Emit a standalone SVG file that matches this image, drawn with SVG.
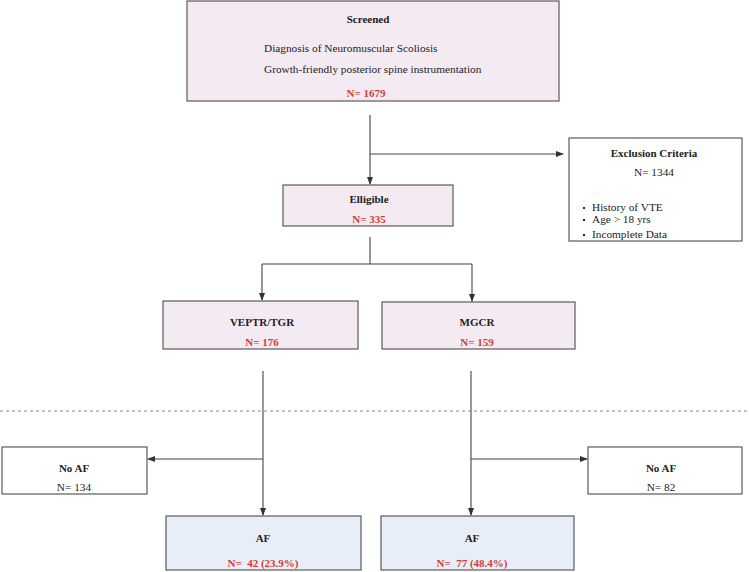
<svg xmlns="http://www.w3.org/2000/svg" width="749" height="572" viewBox="0 0 749 572">
<defs>
<marker id="ah" markerWidth="8" markerHeight="6" refX="7" refY="3" orient="auto" markerUnits="userSpaceOnUse">
<path d="M0,0 L8,3 L0,6 Z" fill="#333"/>
</marker>
<style>
.box{stroke:#5a5a5a;stroke-width:1.2}
.pink{fill:#f4eaf2}
.blue{fill:#e7eef7}
.white{fill:#ffffff}
text{font-family:"Liberation Serif","Times New Roman",serif;fill:#222}
.b{font-weight:bold;font-size:11px;text-anchor:middle}
.n{font-size:11.3px}
.c{text-anchor:middle}
.r{fill:#d63a3a;font-weight:bold;font-size:11px;text-anchor:middle}
.ln{stroke:#444;stroke-width:1.1;fill:none}
.dash{stroke:#888;stroke-width:1;stroke-dasharray:3,3}
</style>
</defs>
<rect width="749" height="572" fill="#ffffff"/>
<line class="dash" x1="0" y1="411" x2="749" y2="411"/>
<g id="connectors">
<line class="ln" x1="370" y1="115" x2="370" y2="184" marker-end="url(#ah)"/>
<line class="ln" x1="370" y1="154" x2="563" y2="154" marker-end="url(#ah)"/>
<line class="ln" x1="370" y1="237" x2="370" y2="264"/>
<line class="ln" x1="262" y1="264" x2="472" y2="264"/>
<line class="ln" x1="262" y1="264" x2="262" y2="300" marker-end="url(#ah)"/>
<line class="ln" x1="472" y1="264" x2="472" y2="301" marker-end="url(#ah)"/>
<line class="ln" x1="263" y1="371" x2="263" y2="515" marker-end="url(#ah)"/>
<line class="ln" x1="263" y1="459" x2="148" y2="459" marker-end="url(#ah)"/>
<line class="ln" x1="471" y1="371" x2="471" y2="515" marker-end="url(#ah)"/>
<line class="ln" x1="471" y1="459" x2="587" y2="459" marker-end="url(#ah)"/>
</g>
<g id="screened">
<rect class="box pink" x="187" y="1" width="372" height="100"/>
<text class="b" x="368" y="23">Screened</text>
<text class="n" x="264" y="52">Diagnosis of Neuromuscular Scoliosis</text>
<text class="n" x="264" y="73">Growth-friendly posterior spine instrumentation</text>
<text class="r" x="366" y="97">N= 1679</text>
</g>
<g id="exclusion">
<rect class="box white" x="569" y="138" width="173" height="103"/>
<text class="b" x="654" y="157">Exclusion Criteria</text>
<text class="n c" x="654" y="176">N= 1344</text>
<rect x="583" y="207" width="2" height="2" fill="#222"/>
<text class="n" x="592" y="211">History of VTE</text>
<rect x="583" y="219" width="2" height="2" fill="#222"/>
<text class="n" x="592" y="223">Age &gt; 18 yrs</text>
<rect x="583" y="234" width="2" height="2" fill="#222"/>
<text class="n" x="592" y="238">Incomplete Data</text>
</g>
<g id="eligible">
<rect class="box pink" x="283" y="185" width="170" height="41"/>
<text class="b" x="369" y="203">Elligible</text>
<text class="r" x="369" y="223">N= 335</text>
</g>
<g id="veptr">
<rect class="box pink" x="163" y="301" width="195" height="48"/>
<text class="b" x="262" y="326">VEPTR/TGR</text>
<text class="r" x="262" y="346">N= 176</text>
</g>
<g id="mgcr">
<rect class="box pink" x="382" y="302" width="193" height="47"/>
<text class="b" x="477" y="326">MGCR</text>
<text class="r" x="477" y="346">N= 159</text>
</g>
<g id="noaf-left">
<rect class="box white" x="2" y="447" width="145" height="47"/>
<text class="b" x="74" y="472">No AF</text>
<text class="n c" x="74" y="491">N= 134</text>
</g>
<g id="af-left">
<rect class="box blue" x="166" y="516" width="195" height="54"/>
<text class="b" x="263" y="542">AF</text>
<text class="r" x="263" y="567">N=&#160; 42 (23.9%)</text>
</g>
<g id="noaf-right">
<rect class="box white" x="588" y="447" width="154" height="47"/>
<text class="b" x="661" y="472">No AF</text>
<text class="n c" x="661" y="491">N= 82</text>
</g>
<g id="af-right">
<rect class="box blue" x="381" y="516" width="193" height="54"/>
<text class="b" x="472" y="542">AF</text>
<text class="r" x="472" y="567">N=&#160; 77 (48.4%)</text>
</g>
</svg>
